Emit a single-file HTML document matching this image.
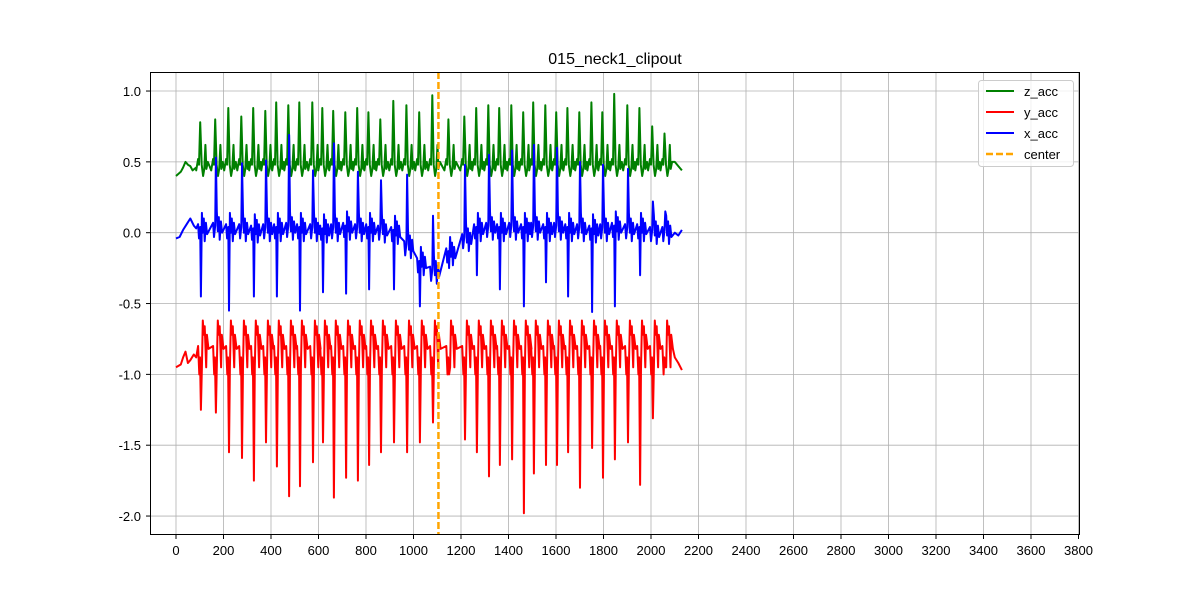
<!DOCTYPE html>
<html><head><meta charset="utf-8"><style>
body{margin:0;background:#fff}
svg text{font-family:"Liberation Sans","DejaVu Sans",sans-serif;fill:#000}
</style></head><body>
<svg id="chart" width="1200" height="600" viewBox="0 0 1200 600" xmlns="http://www.w3.org/2000/svg">
<rect width="1200" height="600" fill="#fff"/>
<text x="615" y="64" font-size="16" text-anchor="middle">015_neck1_clipout</text>
<g id="grid"></g>
<g id="ticks"></g>
<defs><clipPath id="clip"><rect x="150" y="72" width="930" height="463"/></clipPath></defs>
<g id="series" clip-path="url(#clip)"></g>
<rect x="150.5" y="72.5" width="929" height="462" fill="none" stroke="#000" stroke-width="1"/>
<g>
<rect x="978.5" y="80.5" width="95" height="86" rx="3" fill="#fff" fill-opacity="0.8" stroke="#ccc"/>
<g><line x1="986" y1="91" x2="1014" y2="91" stroke="green" stroke-width="2"/><text x="1024" y="96" font-size="13">z_acc</text></g>
<g><line x1="986" y1="112" x2="1014" y2="112" stroke="red" stroke-width="2"/><text x="1024" y="117" font-size="13">y_acc</text></g>
<g><line x1="986" y1="133" x2="1014" y2="133" stroke="blue" stroke-width="2"/><text x="1024" y="138" font-size="13">x_acc</text></g>
<g><line x1="986" y1="154" x2="1014" y2="154" stroke="orange" stroke-width="2.5" stroke-dasharray="7,3"/><text x="1024" y="159" font-size="13">center</text></g>
</g>
</svg>
<script>
const beatTimes=[105,168,223,278,328,379,425,476,522,577,619,665,716,766,813,863,918,973,1027,1082,1150,1217,1267,1318,1364,1415,1465,1507,1558,1604,1651,1701,1752,1798,1848,1903,1954,2008,2060];
const zPeaks=[0.78,0.8,0.88,0.82,0.88,0.86,0.92,0.90,0.92,0.92,0.88,0.86,0.85,0.88,0.85,0.80,0.93,0.90,0.85,0.97,0.80,0.82,0.88,0.90,0.88,0.90,0.85,0.92,0.90,0.85,0.88,0.85,0.92,0.85,0.98,0.90,0.88,0.75,0.70];
const yDips=[-1.25,-1.27,-1.55,-1.59,-1.75,-1.48,-1.65,-1.86,-1.79,-1.62,-1.48,-1.87,-1.73,-1.75,-1.64,-1.55,-1.48,-1.55,-1.48,-1.34,-1.0,-1.46,-1.55,-1.72,-1.64,-1.60,-1.98,-1.70,-1.64,-1.64,-1.55,-1.80,-1.52,-1.73,-1.60,-1.48,-1.78,-1.31,-0.95];
const xSpikes=[-0.45,0.53,-0.55,0.49,-0.45,0.51,-0.45,0.69,-0.55,0.44,-0.42,0.63,-0.43,0.43,-0.40,0.37,-0.40,0.41,-0.52,0.12,-0.25,0.48,-0.30,0.55,-0.40,0.58,-0.52,0.62,-0.35,0.60,-0.45,0.50,-0.56,0.48,-0.52,0.45,-0.30,0.22,0.15];
const xBase=[0.02,0.03,0.02,0.02,0.01,0.02,0.02,0.03,0.02,0.02,0.01,0.02,0.03,0.02,0.02,0.01,0.0,-0.1,-0.22,-0.28,-0.15,-0.05,0.02,0.03,0.02,0.03,0.02,0.03,0.02,0.03,0.02,0.02,0.01,0.02,0.03,0.02,0.02,0.0,0.0];
const xTicks=[0,200,400,600,800,1000,1200,1400,1600,1800,2000,2200,2400,2600,2800,3000,3200,3400,3600,3800];
const yTicks=[1.0,0.5,0.0,-0.5,-1.0,-1.5,-2.0];
const centerX=1105;
const endX=2130;

const X=v=>176+v/200*47.5;
const Y=v=>232.7-v*141.67;
const NS='http://www.w3.org/2000/svg';
const mk=(t,a,p)=>{const e=document.createElementNS(NS,t);for(const k in a)e.setAttribute(k,a[k]);p.appendChild(e);return e;};
const grid=document.getElementById('grid'),ticks=document.getElementById('ticks'),series=document.getElementById('series');

xTicks.forEach(v=>{const x=X(v);
 mk('line',{x1:x,y1:72,x2:x,y2:535,stroke:'#b0b0b0','stroke-width':0.8},grid);
 mk('line',{x1:x,y1:535,x2:x,y2:539,stroke:'#000'},ticks);
 const t=mk('text',{x:x,y:555,'font-size':13,'text-anchor':'middle'},ticks);t.textContent=v;
 
 
});
yTicks.forEach(v=>{const y=Y(v);
 mk('line',{x1:150,y1:y,x2:1080,y2:y,stroke:'#b0b0b0','stroke-width':0.8},grid);
 mk('line',{x1:146,y1:y,x2:150,y2:y,stroke:'#000'},ticks);
 const t=mk('text',{x:141,y:y+5,'font-size':13,'text-anchor':'end'},ticks);t.textContent=v.toFixed(1);
 
 
});

function draw(pts,color,name){
 const d=pts.map((p,i)=>(i?'L':'M')+X(p[0]).toFixed(1)+','+Y(p[1]).toFixed(1)).join('');
 const e=mk('path',{d:d,fill:'none',stroke:color,'stroke-width':2,'stroke-linejoin':'round'},series);
 
 
}
// z_acc
let z=[[0,0.40],[20,0.43],[30,0.46],[40,0.50],[50,0.48],[60,0.47],[70,0.44],[85,0.46]];
beatTimes.forEach((t,i)=>{const p=zPeaks[i];
 z.push([t-20,0.44],[t-12,0.52],[t-8,0.48],[t-3,p],[t+3,0.48],[t+9,0.40],[t+14,0.45],[t+19,0.62],[t+23,0.45],[t+29,0.50]);});
z.push([endX-30,0.50],[endX-15,0.47],[endX,0.44]);
draw(z,'green','z-acc-line');
// y_acc
let yy=[[0,-0.95],[20,-0.93],[30,-0.88],[40,-0.84],[50,-0.92],[60,-0.90],[75,-0.86],[85,-0.88]];
beatTimes.forEach((t,i)=>{const d=yDips[i];
 yy.push([t-12,-0.80],[t-7,-1.0],[t-4,-0.88],[t,d],[t+4,-0.95],[t+8,-0.62],[t+12,-0.72],[t+16,-0.66],[t+22,-0.95],[t+25,-0.72],[t+32,-0.82]);});
yy.push([endX-30,-0.88],[endX-15,-0.92],[endX,-0.97]);
draw(yy,'red','y-acc-line');
// x_acc
let xx=[[0,-0.04],[15,-0.03],[30,0.02],[45,0.06],[60,0.10],[75,0.05],[85,0.03]];
beatTimes.forEach((t,i)=>{const b=xBase[i],s=xSpikes[i];
 xx.push([t-12,b+0.04],[t-8,b-0.06],[t-3,b+0.02],[t,s],[t+4,b+0.12],[t+8,b-0.02],[t+12,b+0.08],[t+16,b-0.08],[t+21,b+0.05],[t+26,b-0.03]);});
xx.push([endX-30,0.0],[endX-15,-0.02],[endX,0.02]);
draw(xx,'blue','x-acc-line');
// center
const c=mk('line',{x1:X(centerX),y1:72,x2:X(centerX),y2:535,stroke:'orange','stroke-width':2.5,'stroke-dasharray':'7,3'},series);


</script>
</body></html>
